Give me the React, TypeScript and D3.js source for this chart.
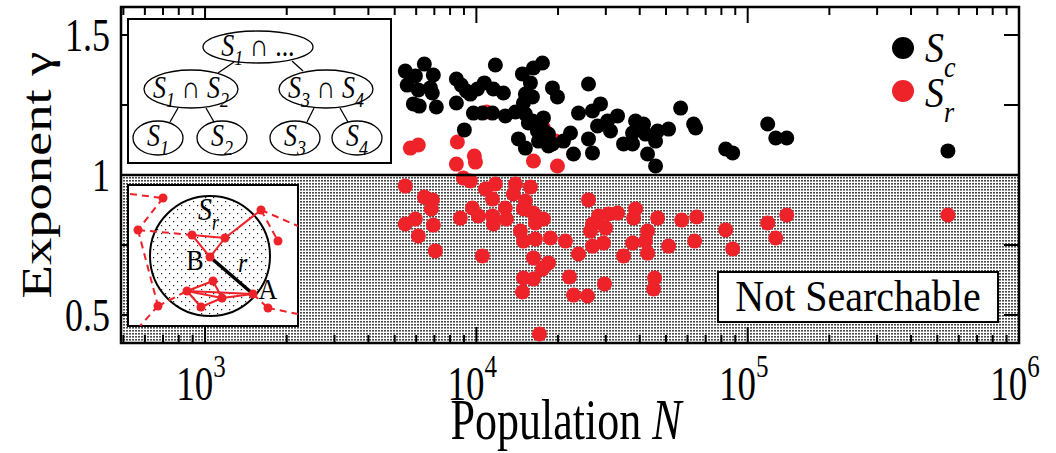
import React from 'react';
import * as d3 from 'd3';

// ---- Data ----
const scN = [5470, 6430, 6940, 5960, 5560, 6110, 6770, 6880, 5860, 6160, 7120, 8440, 8800, 8440, 9190, 9500, 10090, 10700, 11750, 11550, 12580, 9750, 10520, 11460, 12790, 9030, 13930, 14780, 16230, 17520, 15820, 15160, 16090, 14910, 19070, 19900, 25900, 15160, 15550, 17670, 16790, 14290, 15160, 16940, 18440, 18440, 20940, 22230, 22800, 23790, 26790, 28680, 27960, 30440, 31220, 33140, 25900, 26790, 34870, 37640, 38610, 37640, 41330, 42030, 42750, 46550, 45760, 51110, 45760, 56600, 64290, 82950, 88030, 118500, 126900, 139300, 547000, 16090, 19070, 63200, 17520];
const scGamma = [1.371, 1.396, 1.357, 1.354, 1.321, 1.304, 1.311, 1.293, 1.254, 1.246, 1.243, 1.343, 1.321, 1.257, 1.300, 1.289, 1.307, 1.329, 1.393, 1.307, 1.293, 1.221, 1.221, 1.221, 1.211, 1.161, 1.225, 1.361, 1.382, 1.400, 1.329, 1.289, 1.279, 1.257, 1.311, 1.279, 1.325, 1.218, 1.186, 1.204, 1.157, 1.129, 1.096, 1.121, 1.146, 1.104, 1.121, 1.150, 1.075, 1.221, 1.229, 1.254, 1.175, 1.193, 1.157, 1.211, 1.129, 1.079, 1.111, 1.150, 1.193, 1.111, 1.182, 1.146, 1.075, 1.157, 1.121, 1.164, 1.032, 1.239, 1.168, 1.093, 1.079, 1.182, 1.132, 1.132, 1.086, 1.193, 1.111, 1.182, 1.164];

const srN = [5710, 6110, 8510, 8440, 9830, 9920, 16230, 19900, 10900, 17670, 19570,
  5470, 8950, 9500, 10800, 11750, 11460, 13930, 13690, 15820, 15160,
  6430, 6880, 6820, 5960, 5470, 6940, 6110, 7060,
  8730, 9670, 10170, 11460, 11550, 12790, 12900, 10520,
  14910, 16230, 16510, 17670, 14530, 14910, 16510, 18750, 21300, 23790,
  25900, 28200, 26790, 26340, 29930, 30700, 33140, 38610, 37960,
  26790, 29420, 37640, 34870, 42750, 42030, 42750, 46550, 51110,
  57080, 64840, 63750, 82950, 88030, 118500, 139300, 126900, 547000,
  16230, 18440, 17520, 14910, 16230, 14780, 22040, 22800, 25680, 29670, 45370, 44990, 17080];
const srGamma = [1.096, 1.107, 1.118, 1.039, 1.068, 1.046, 1.050, 1.032, 1.225, 1.168, 1.121,
  0.961, 0.989, 0.979, 0.950, 0.968, 0.914, 0.968, 0.932, 0.957, 0.907,
  0.921, 0.911, 0.879, 0.843, 0.825, 0.821, 0.782, 0.729,
  0.846, 0.882, 0.854, 0.854, 0.825, 0.882, 0.843, 0.711,
  0.879, 0.864, 0.829, 0.843, 0.800, 0.764, 0.771, 0.775, 0.764, 0.718,
  0.911, 0.854, 0.825, 0.800, 0.811, 0.861, 0.864, 0.879, 0.846,
  0.746, 0.757, 0.757, 0.711, 0.800, 0.764, 0.721, 0.846, 0.746,
  0.839, 0.850, 0.764, 0.804, 0.736, 0.829, 0.857, 0.775, 0.857,
  0.704, 0.686, 0.664, 0.632, 0.629, 0.582, 0.636, 0.571, 0.568, 0.611, 0.632, 0.593, 0.432];

const xTickExponents = [3, 4, 5, 6];
const yTickValues = [0.5, 0.75, 1, 1.25, 1.5];
const yTickLabels = ['0.5', '', '1', '', '1.5'];
const searchThreshold = 1;

const FONT = "'Liberation Serif', 'DejaVu Serif', 'Times New Roman', serif";
const RED = '#ee2229';
const SY = 1.3; // vertical stretch of the text in the reference

function SLabel({ x, y, parts, fs = 26, sub = 18, dy = 8 }: any) {
  let cur = 0;
  return (
    <text transform={`translate(${x},${y}) scale(1,1.18)`} textAnchor="middle" fontFamily={FONT} fontSize={fs}>
      {parts.map((p: any, i: number) => {
        const [t, isSub, italic] = p;
        const d = isSub ? dy - cur : -cur;
        cur = isSub ? dy : 0;
        return (
          <tspan key={i} dy={d} fontSize={isSub ? sub : fs} fontStyle={italic ? 'italic' : 'normal'}>{t}</tspan>
        );
      })}
    </text>
  );
}

export default function App() {
  const W = 1056, H = 453;
  const L = 121, R = 1019, T = 7, B = 343;
  const x = d3.scaleLog().domain([490, 1e6]).range([L, R]);
  const y = d3.scaleLinear().domain([0.4, 1.6]).range([B, T]);

  const minor: number[] = [];
  for (let e = 2; e < 6; e++) for (let k = 2; k < 10; k++) {
    const v = k * Math.pow(10, e);
    if (v > 490 && v < 1e6) minor.push(v);
  }
  const major = xTickExponents.map(e => Math.pow(10, e));
  const majLen = 16, minLen = 8, yLen = 15;

  const sc = scN.map((n, i) => [n, scGamma[i]]);
  const sr = srN.map((n, i) => [n, srGamma[i]]);

  const nodes: Record<string, [number, number]> = {
    n1: [163, 198], n2: [138, 230], n3: [192, 235], n4: [225, 238], n5: [261, 210], n6: [278, 241],
    B: [210, 257], n8: [213, 281], n9: [187, 291], n10: [222, 298], n11: [201, 307], A: [253, 294],
    n13: [158, 306], n14: [268, 308],
  };
  const solid = [['n3', 'n4'], ['n3', 'B'], ['n4', 'B'], ['n4', 'n5'], ['n9', 'n8'], ['n8', 'n10'], ['n9', 'n10'], ['n9', 'n11'], ['n11', 'n10'], ['n10', 'A'], ['n9', 'A']];
  const dashed: [number, number, number, number][] = [
    [130, 194, 163, 198], [163, 198, 138, 230], [138, 230, 192, 235], [138, 230, 158, 306], [158, 306, 140, 326],
    [158, 306, 187, 291], [261, 210, 298, 226], [261, 210, 278, 241], [253, 294, 268, 308], [268, 308, 298, 314],
  ];

  return (
    <svg width={W} height={H} style={{ position: 'absolute', left: 0, top: 0, display: 'block', background: '#fff' }}>
      <defs>
        <pattern id="shade" width="3" height="3" patternUnits="userSpaceOnUse">
          <rect width="3" height="3" fill="#fff" />
          <rect width="2" height="1.6" fill="#4a4a4a" />
        </pattern>
        <pattern id="sparse" width="8" height="8" patternUnits="userSpaceOnUse">
          <rect width="8" height="8" fill="#fff" />
          <rect x="1" y="1" width="1.2" height="1.2" fill="#222" />
          <rect x="5" y="5" width="1.2" height="1.2" fill="#222" />
        </pattern>
        <clipPath id="netclip"><rect x={128} y={185} width={170} height={141} /></clipPath>
      </defs>

      {/* shaded not-searchable region */}
      <rect x={L} y={y(searchThreshold)} width={R - L} height={B - y(searchThreshold)} fill="url(#shade)" />

      {/* data */}
      <g>
        {sr.map((d, i) => <circle key={'r' + i} cx={x(d[0])} cy={y(d[1])} r={7.5} fill={RED} />)}
        {sc.map((d, i) => <circle key={'b' + i} cx={x(d[0])} cy={y(d[1])} r={7.5} fill="#000" />)}
      </g>

      <line x1={L} x2={R} y1={y(searchThreshold)} y2={y(searchThreshold)} stroke="#000" strokeWidth={2.5} />

      {/* ticks */}
      <g stroke="#000" strokeWidth={2}>
        {major.map((v, i) => (
          <g key={'M' + i}>
            <line x1={x(v)} x2={x(v)} y1={B} y2={B - majLen} />
            <line x1={x(v)} x2={x(v)} y1={T} y2={T + majLen} />
          </g>
        ))}
        {minor.map((v, i) => (
          <g key={'m' + i}>
            <line x1={x(v)} x2={x(v)} y1={B} y2={B - minLen} />
            <line x1={x(v)} x2={x(v)} y1={T} y2={T + minLen} />
          </g>
        ))}
        {yTickValues.map((v, i) => (
          <g key={'y' + i}>
            <line x1={L} x2={L + yLen} y1={y(v)} y2={y(v)} />
            <line x1={R} x2={R - yLen} y1={y(v)} y2={y(v)} />
          </g>
        ))}
      </g>

      {/* frame */}
      <rect x={L} y={T} width={R - L} height={B - T} fill="none" stroke="#000" strokeWidth={2.5} />

      {/* y tick labels */}
      {yTickValues.map((v, i) => yTickLabels[i] ? (
        <text key={'yl' + i} transform={`translate(110,${y(v) + 16}) scale(1,${SY})`} textAnchor="end" fontFamily={FONT} fontSize={36}>{yTickLabels[i]}</text>
      ) : null)}

      {/* x tick labels */}
      {xTickExponents.map((e, i) => (
        <text key={'xl' + i} transform={`translate(${x(Math.pow(10, e)) - 4},400) scale(1,${SY})`} textAnchor="middle" fontFamily={FONT} fontSize={37}>
          10<tspan fontSize={25} dy={-18}>{e}</tspan>
        </text>
      ))}

      {/* axis titles */}
      <text transform={`translate(566,439) scale(1,${SY})`} textAnchor="middle" fontFamily={FONT} fontSize={44}>
        Population <tspan fontStyle="italic">N</tspan>
      </text>
      <text transform={`translate(51,${(T + B) / 2}) rotate(-90) scale(${SY},1)`} textAnchor="middle" fontFamily={FONT} fontSize={42}>
        Exponent γ
      </text>

      {/* legend */}
      <circle cx={903} cy={48} r={11} fill="#000" />
      <text transform={`translate(925,62) scale(1,1.1)`} fontFamily={FONT} fontSize={38} fontStyle="italic">S<tspan fontSize={26} dy={14}>c</tspan></text>
      <circle cx={903} cy={91} r={11} fill={RED} />
      <text transform={`translate(925,107) scale(1,1.1)`} fontFamily={FONT} fontSize={38} fontStyle="italic">S<tspan fontSize={26} dy={14}>r</tspan></text>

      {/* Not Searchable box */}
      <rect x={718} y={272} width={280} height={50} fill="#fff" stroke="#000" strokeWidth={2} />
      <text transform={`translate(858,311) scale(1,1.12)`} textAnchor="middle" fontFamily={FONT} fontSize={40}>Not Searchable</text>

      {/* tree inset */}
      <g>
        <rect x={128} y={19} width={263} height={144} fill="#fff" stroke="#000" strokeWidth={2} />
        <g stroke="#000" strokeWidth={1.3}>
          <line x1={234} y1={62} x2={218} y2={73} />
          <line x1={292} y1={61} x2={303} y2={71} />
          <line x1={178} y1={108} x2={170} y2={122} />
          <line x1={206} y1={108} x2={214} y2={122} />
          <line x1={314} y1={108} x2={307} y2={122} />
          <line x1={340} y1={108} x2={348} y2={122} />
        </g>
        <g fill="#fff" stroke="#000" strokeWidth={1.3}>
          <ellipse cx={258} cy={47} rx={55} ry={16} />
          <ellipse cx={191} cy={89} rx={47} ry={19} />
          <ellipse cx={326} cy={89} rx={47} ry={19} />
          <ellipse cx={158} cy={138} rx={25} ry={17} />
          <ellipse cx={222} cy={138} rx={25} ry={17} />
          <ellipse cx={295} cy={138} rx={25} ry={17} />
          <ellipse cx={357} cy={138} rx={25} ry={17} />
        </g>
        <SLabel x={258} y={56} parts={[['S', false, true], ['1', true, true], [' ∩ ...', false, false]]} />
        <SLabel x={191} y={98} parts={[['S', false, true], ['1', true, true], [' ∩ ', false, false], ['S', false, true], ['2', true, true]]} />
        <SLabel x={326} y={98} parts={[['S', false, true], ['3', true, true], [' ∩ ', false, false], ['S', false, true], ['4', true, true]]} />
        <SLabel x={158} y={146} parts={[['S', false, true], ['1', true, true]]} />
        <SLabel x={222} y={146} parts={[['S', false, true], ['2', true, true]]} />
        <SLabel x={295} y={146} parts={[['S', false, true], ['3', true, true]]} />
        <SLabel x={357} y={146} parts={[['S', false, true], ['4', true, true]]} />
      </g>

      {/* network inset */}
      <g>
        <rect x={128} y={185} width={170} height={141} fill="#fff" stroke="#000" strokeWidth={2} />
        <circle cx={210} cy={256} r={60} fill="url(#sparse)" stroke="#000" strokeWidth={2} />
        <g clipPath="url(#netclip)">
          {dashed.map((d, i) => (
            <line key={'dl' + i} x1={d[0]} y1={d[1]} x2={d[2]} y2={d[3]} stroke={RED} strokeWidth={2} strokeDasharray="7,5" />
          ))}
          {solid.map((e, i) => (
            <line key={'sl' + i} x1={nodes[e[0]][0]} y1={nodes[e[0]][1]} x2={nodes[e[1]][0]} y2={nodes[e[1]][1]} stroke={RED} strokeWidth={2} />
          ))}
          <line x1={nodes.B[0]} y1={nodes.B[1]} x2={nodes.A[0]} y2={nodes.A[1]} stroke="#000" strokeWidth={3.5} />
          {Object.keys(nodes).map(k => (
            <circle key={k} cx={nodes[k][0]} cy={nodes[k][1]} r={4.5} fill={RED} />
          ))}
        </g>
        <text transform="translate(198,220) scale(1,1.15)" fontFamily={FONT} fontSize={28} fontStyle="italic">S<tspan fontSize={18} dy={8}>r</tspan></text>
        <text transform="translate(195,270) scale(1,1.15)" textAnchor="middle" fontFamily={FONT} fontSize={26}>B</text>
        <text transform="translate(238,272) scale(1,1.15)" fontFamily={FONT} fontSize={24} fontStyle="italic">r</text>
        <text transform="translate(268,299) scale(1,1.15)" textAnchor="middle" fontFamily={FONT} fontSize={26}>A</text>
      </g>
    </svg>
  );
}
